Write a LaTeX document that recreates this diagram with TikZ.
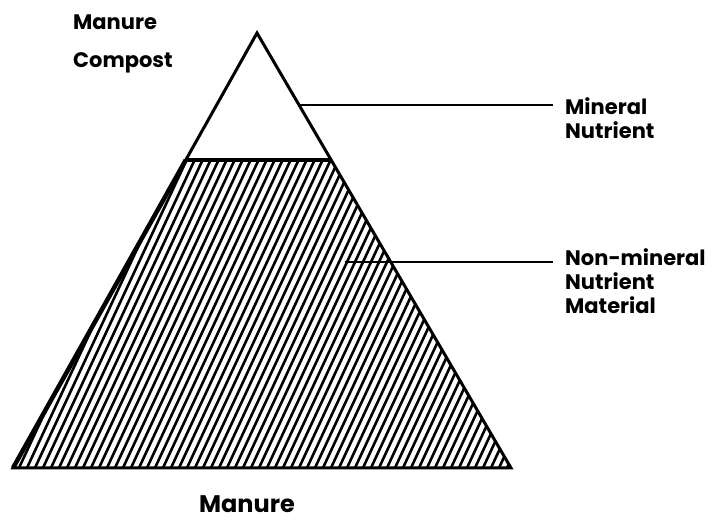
\documentclass[tikz,border=0pt]{standalone}
\usepackage{fontspec}
\setmainfont{Poppins}
\usetikzlibrary{calc}
\begin{document}
\begin{tikzpicture}[
        x=1pt, y=-1pt,
        outline/.style={line width=3pt, line join=miter},
        hatch/.style={line width=2.6pt},
        leader/.style={line width=1.8pt, shorten >=12pt},
        tag/.style={inner sep=0pt, align=left, font=\bfseries\fontsize{21}{24}\selectfont}
    ]
        \useasboundingbox (0,0) rectangle (713,521);

        % Pyramid corners
        \coordinate (apex) at (257,33);
        \coordinate (bl) at (13,468);
        \coordinate (br) at (511,468);
        \coordinate (ml) at ($(apex)!0.292!(bl)$);
        \coordinate (mr) at ($(apex)!0.292!(br)$);

        % Hatched lower part
        \begin{scope}
            \clip (ml) -- (mr) -- (br) -- (bl) -- cycle;
            \foreach \x in {-150,-142,...,520}
                \draw[hatch] (\x,470) -- ++(146,-313);
        \end{scope}

        % Outline
        \draw[outline] (bl) -- (apex) -- (br) -- cycle;
        \draw[outline, line width=4pt] (ml) -- (mr);
        \draw[outline, line width=4.5pt] (ml) -- (bl);

        % Labels (base = last line)
        \node[tag, anchor=base west, font=\bfseries\fontsize{21}{38}\selectfont] (compost) at (73,68) {Manure\\Compost};
        \node[tag, anchor=base west] (mineral) at (565,139) {Mineral\\Nutrient};
        \node[tag, anchor=base west] (nonmineral) at (565,314) {Non-mineral\\Nutrient\\Material};
        \node[tag, anchor=base, font=\bfseries\fontsize{24}{28}\selectfont] (manure) at (247,512) {Manure};

        % Leaders
        \coordinate (minA) at ($(apex)!0.165!(br)$);
        \coordinate (nonA) at (345,262);
        \draw[leader] (minA) -- (minA -| mineral.west);
        \draw[leader] (nonA) -- (nonA -| nonmineral.west);
    \end{tikzpicture}
\end{document}
